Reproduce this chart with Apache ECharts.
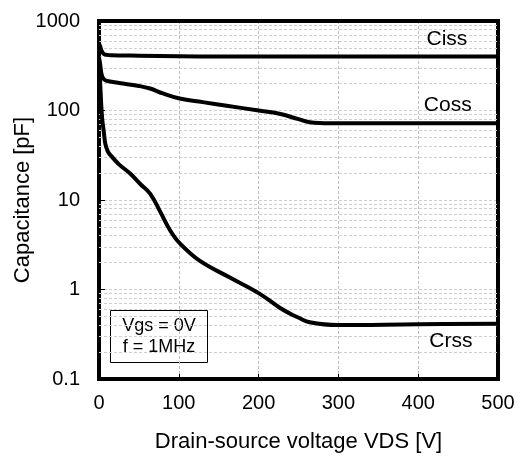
<!DOCTYPE html>
<html>
<head>
<meta charset="utf-8">
<script src="https://cdn.jsdelivr.net/npm/echarts@6/dist/echarts.min.js"></script>
<style>
  html, body { margin: 0; padding: 0; background: #fff; }
  #main { width: 522px; height: 458px; }
</style>
</head>
<body>
<div id="main"></div>
<script>
// Drain-source voltage (V) and capacitance (pF)
var cissV = [0, 1.5, 3, 6, 10, 15, 30, 50, 100, 150, 200, 300, 400, 500];
var cissC = [560, 520, 470, 428, 418, 414, 412, 410, 403, 401, 400, 400, 400, 400];

var cossV = [0, 1, 2, 3, 4.5, 7, 12, 30, 50, 64, 80, 101, 130, 160, 200, 226, 250, 264, 290, 350, 500];
var cossC = [390, 350, 300, 260, 235, 220, 212, 200, 188, 176, 155, 136, 124, 113, 100, 92, 80, 74, 72, 72, 72];

var crssV = [0, 1, 2.5, 4, 6, 8, 11, 14, 25, 39, 52, 64, 76, 89, 101, 126, 164, 201, 226, 239, 251, 264, 299, 400, 500];
var crssC = [350, 250, 130, 80, 58, 42, 35, 32, 25, 19.8, 15, 11.8, 7.6, 4.6, 3.3, 2.1, 1.36, 0.9, 0.63, 0.54, 0.48, 0.43, 0.40, 0.41, 0.415];

var yMinor = [0.2, 0.3, 0.4, 0.5, 0.6, 0.7, 0.8, 0.9,
              2, 3, 4, 5, 6, 7, 8, 9,
              20, 30, 40, 50, 60, 70, 80, 90,
              200, 300, 400, 500, 600, 700, 800, 900];

// where the curve names sit (V, pF)
var labelPos = {
  Ciss: [436, 630],
  Coss: [437, 115],
  Crss: [441, 0.265]
};

function pairs(xs, ys) {
  return xs.map(function (x, i) { return [x, ys[i]]; });
}

var font = 'Liberation Sans, Arial, sans-serif';
var myChart = echarts.init(document.getElementById('main'));

var curve = function (name, xs, ys) {
  return {
    name: name,
    type: 'line',
    data: pairs(xs, ys),
    smooth: 0.4,
    showSymbol: false,
    z: 3,
    lineStyle: { color: '#000', width: 4, join: 'round', cap: 'round' },
    markPoint: {
      symbol: 'rect',
      symbolSize: 1,
      itemStyle: { color: 'rgba(0,0,0,0)' },
      label: { show: true, position: 'inside', formatter: name,
               fontFamily: font, fontSize: 21, color: '#000' },
      data: [{ coord: labelPos[name] }]
    }
  };
};

var option = {
  animation: false,
  backgroundColor: '#fff',
  grid: {
    left: 99, right: 24, top: 21, bottom: 79,
    show: true,
    borderColor: '#000',
    borderWidth: 4,
    z: 1
  },
  xAxis: {
    type: 'value',
    min: 0, max: 500, interval: 100,
    name: 'Drain-source voltage VDS [V]',
    nameLocation: 'middle',
    nameGap: 52,
    nameMoveOverlap: false,
    nameTextStyle: { fontFamily: font, fontSize: 22, color: '#000' },
    axisLine: { show: false },
    axisTick: { show: true, inside: true, length: 5, lineStyle: { color: '#000', width: 1 } },
    axisLabel: { fontFamily: font, fontSize: 20, color: '#000', margin: 14 },
    splitLine: { show: true, lineStyle: { color: '#bdbdbd', type: [3, 2], width: 1 } }
  },
  yAxis: {
    type: 'log',
    logBase: 10,
    min: 0.1, max: 1000,
    name: 'Capacitance [pF]',
    nameLocation: 'middle',
    nameGap: 65,
    nameMoveOverlap: false,
    nameTextStyle: { fontFamily: font, fontSize: 22, color: '#000' },
    axisLine: { show: false },
    axisTick: { show: true, inside: true, length: 6, lineStyle: { color: '#000', width: 1 } },
    axisLabel: { fontFamily: font, fontSize: 20, color: '#000', margin: 19,
                 formatter: function (v) { return String(v); } },
    splitLine: { show: true, lineStyle: { color: '#cfcfcf', type: [3, 2], width: 1 } }
  },
  graphic: [{
    type: 'group',
    left: 110, top: 310,
    z: 10,
    children: [
      { type: 'rect', shape: { x: 0.5, y: 0.5, width: 97, height: 52 },
        style: { fill: '#fff', stroke: '#000', lineWidth: 1 } },
      { type: 'text', x: 49, y: 16,
        style: { text: 'Vgs = 0V', fill: '#000', fontSize: 18, fontFamily: font,
                 align: 'center', verticalAlign: 'middle' } },
      { type: 'text', x: 49, y: 37,
        style: { text: 'f = 1MHz', fill: '#000', fontSize: 18, fontFamily: font,
                 align: 'center', verticalAlign: 'middle' } }
    ]
  }],
  series: [
    {
      name: 'grid-minor',
      type: 'line',
      data: [],
      silent: true,
      z: 1,
      markLine: {
        silent: true,
        z: 1,
        symbol: 'none',
        animation: false,
        label: { show: false },
        lineStyle: { color: '#cfcfcf', type: [3, 2], width: 1 },
        data: yMinor.map(function (v) { return { yAxis: v }; })
      }
    },
    curve('Ciss', cissV, cissC),
    curve('Coss', cossV, cossC),
    curve('Crss', crssV, crssC)
  ]
};

myChart.setOption(option);
</script>
</body>
</html>
